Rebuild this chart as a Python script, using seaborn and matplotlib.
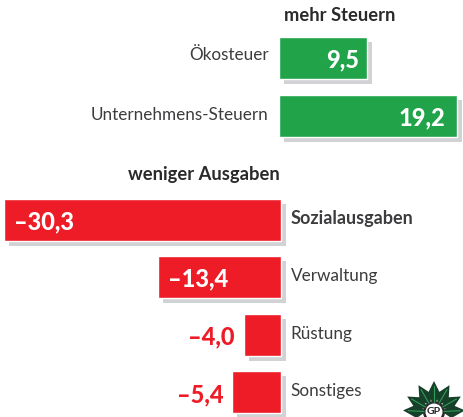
import matplotlib
matplotlib.use("Agg")
import matplotlib.pyplot as plt
import matplotlib.patheffects as pe
from matplotlib.patches import Polygon, Circle
import numpy as np
import seaborn as sns

# Daten
steuern_labels = ["Ökosteuer", "Unternehmens-Steuern"]
steuern_werte = [9.5, 19.2]
ausgaben_labels = ["Sozialausgaben", "Verwaltung", "Rüstung", "Sonstiges"]
ausgaben_werte = [-30.3, -13.4, -4.0, -5.4]

GRUEN = "#21a34a"
ROT = "#ed1c26"
SCHATTEN = "#d1d2d4"
TEXT = "#3c3c3e"
W, H = 463, 417
PT = 0.72  # Pixel -> Punkt bei dpi 100

sns.set_style("white")
plt.rcParams["font.family"] = ["Lato", "DejaVu Sans"]


def balken(fig, oben, unten, ylim, labels, werte, farbe, null_x, skala):
    # Achse ueber die ganze Breite, oben/unten in Pixeln
    ax = fig.add_axes([0, 1 - unten / H, 1, (unten - oben) / H])
    ax.set_facecolor("none")
    sns.barplot(x=werte, y=labels, orient="h", color=farbe, saturation=1, width=0.73, ax=ax)
    ax.set_xlim(-null_x / skala, (W - null_x) / skala)
    ax.set_ylim(*ylim)
    ax.set_xticks([])
    ax.set_yticks([])
    ax.set_xlabel("")
    ax.set_ylabel("")
    sns.despine(ax=ax, left=True, bottom=True)
    # grauer Schatten rechts unten
    for p in ax.patches:
        p.set_path_effects([
            pe.SimplePatchShadow(offset=(5 * PT, -5 * PT), shadow_rgbFace=SCHATTEN, alpha=1, rho=1),
            pe.Normal(),
        ])
    return ax


def kategorie(ax, text, i, dx, dy, fett=False):
    ax.annotate(text, xy=(0, i), xytext=(dx * PT, dy * PT), textcoords="offset points",
                ha="left" if dx > 0 else "right", va="center", color=TEXT,
                fontsize=13 if fett else 12.3,
                fontweight="bold" if fett else "normal")


def wert_text(ax, wert, i, farbe, dx):
    txt = f"{wert:.1f}".replace(".", ",").replace("-", "–")
    ax.annotate(txt, xy=(wert, i), xytext=(dx * PT, -2 * PT), textcoords="offset points",
                ha="left" if dx > 0 else "right", va="center",
                color=farbe, fontsize=17, fontweight="black")


fig = plt.figure(figsize=(W / 100, H / 100), dpi=100, facecolor="white")

# mehr Steuern
ax1 = balken(fig, 29, 145, (1.5, -0.5), steuern_labels, steuern_werte, GRUEN, 279, 9.25)
kategorie(ax1, steuern_labels[0], 0, -10, 3)
kategorie(ax1, steuern_labels[1], 1, -11, 1)
wert_text(ax1, steuern_werte[0], 0, "white", -8)
wert_text(ax1, steuern_werte[1], 1, "white", -11)

# weniger Ausgaben
ax2 = balken(fig, 190.75, H, (3.426, -0.5), ausgaben_labels, ausgaben_werte, ROT, 281, 9.15)
for i, lab in enumerate(ausgaben_labels):
    kategorie(ax2, lab, i, 9.5, 1, fett=(i == 0))
wert_text(ax2, ausgaben_werte[0], 0, "white", 10)
wert_text(ax2, ausgaben_werte[1], 1, "white", 10)
wert_text(ax2, ausgaben_werte[2], 2, ROT, -10)
wert_text(ax2, ausgaben_werte[3], 3, ROT, -8)

# Overlay in Pixeln fuer Ueberschriften und Logo
ov = fig.add_axes([0, 0, 1, 1])
ov.set_xlim(0, W)
ov.set_ylim(H, 0)
ov.axis("off")
ov.set_facecolor("none")
ov.text(284, 15, "mehr Steuern", fontsize=13.2, fontweight="bold", color="#2a2a2c", va="center", ha="left")
ov.text(280, 174, "weniger Ausgaben", fontsize=13.2, fontweight="bold", color="#2a2a2c", va="center", ha="right")

# Logo unten rechts
cx, cy = 434, 412
for ang in [-90, -60, -120, -30, -150, -3, -177]:
    t = np.deg2rad(ang)
    d = np.array([np.cos(t), np.sin(t)])
    n = np.array([-d[1], d[0]])
    c0 = np.array([cx, cy])
    pts = [c0 + d * 8, c0 + d * 17 + n * 7, c0 + d * 31, c0 + d * 17 - n * 7]
    ov.add_patch(Polygon(pts, closed=True, fc="#17402a", ec="none"))
    ov.plot([cx + d[0] * 10, cx + d[0] * 26], [cy + d[1] * 10, cy + d[1] * 26],
            color="#2f9c55", lw=0.8)
ov.add_patch(Circle((cx, cy), 11, fc="#2b2b2b", ec="none"))
ov.add_patch(Circle((cx, cy), 8.5, fc="white", ec="none"))
ov.text(cx, cy - 1, "GP", fontsize=7.5, fontweight="bold", color="#222222", ha="center", va="center")

fig.savefig("out.png", dpi=100)
